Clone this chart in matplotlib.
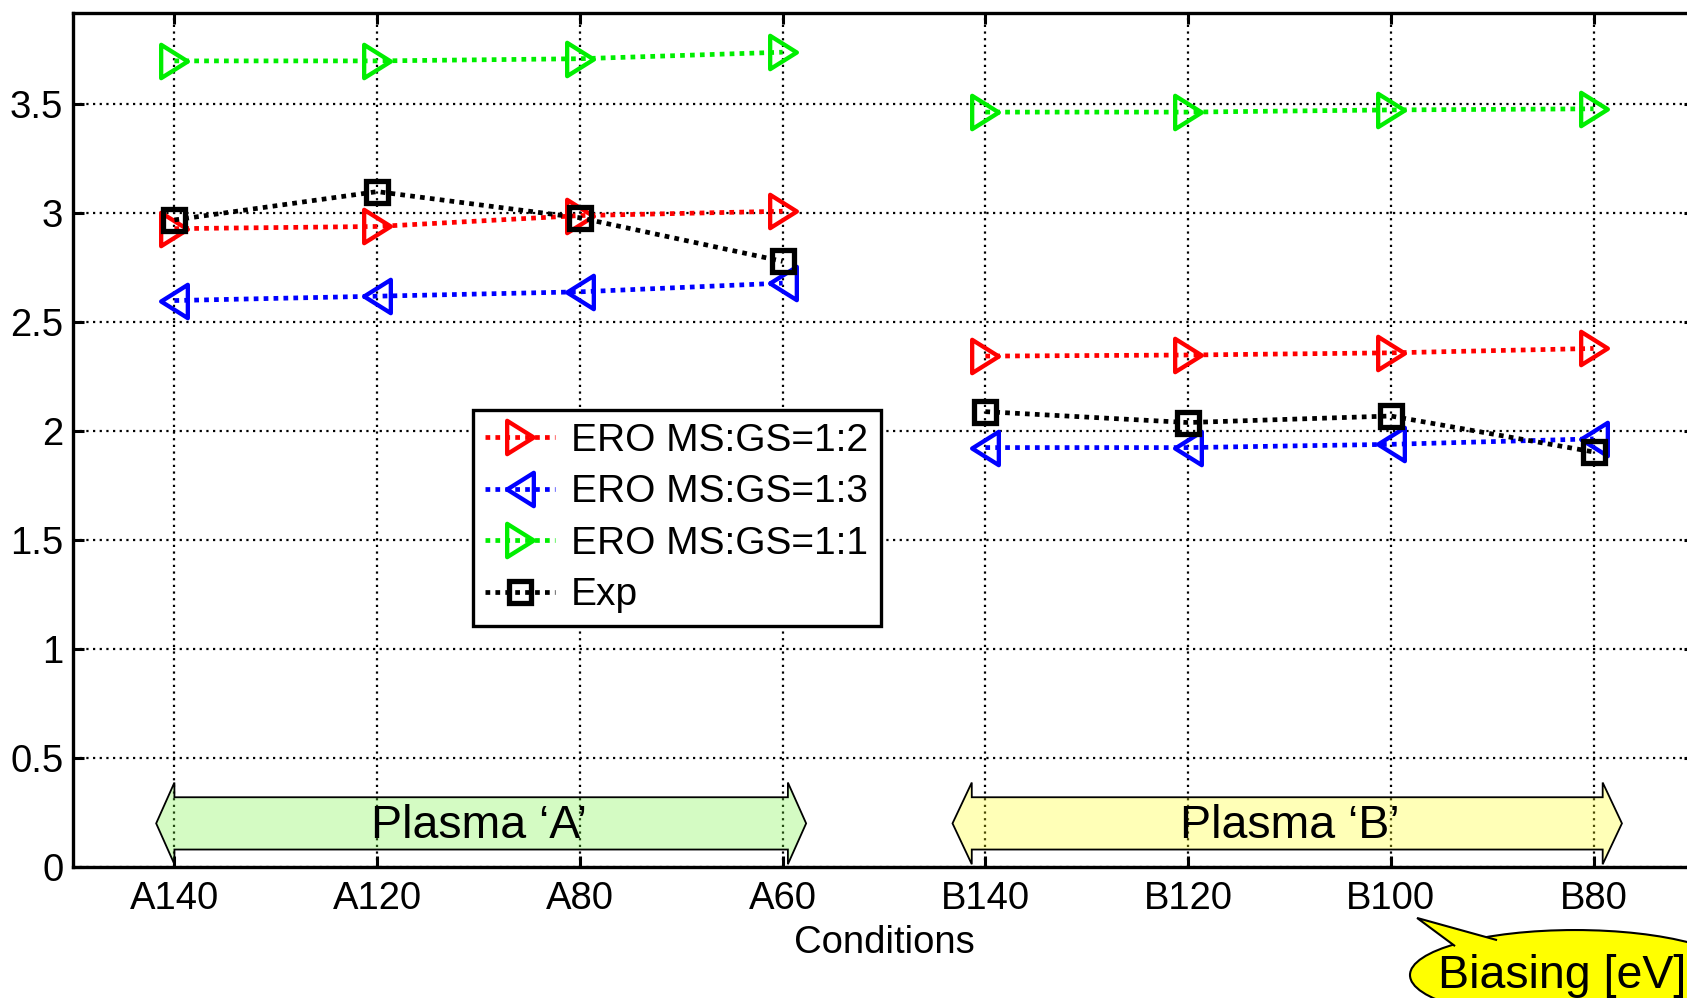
import matplotlib
matplotlib.use("Agg")
import matplotlib.pyplot as plt
import matplotlib.patches as mpatches
from matplotlib.path import Path
import numpy as np

plt.rcParams['font.family'] = ['Liberation Sans', 'DejaVu Sans']

conditions = ["A140", "A120", "A80", "A60", "B140", "B120", "B100", "B80"]
ero_12 = [2.93, 2.94, 2.99, 3.01, 2.345, 2.35, 2.36, 2.38]
ero_13 = [2.60, 2.62, 2.64, 2.68, 1.925, 1.925, 1.94, 1.965]
ero_11 = [3.70, 3.70, 3.71, 3.74, 3.465, 3.465, 3.475, 3.48]
exp_vals = [2.97, 3.10, 2.98, 2.78, 2.09, 2.04, 2.07, 1.905]
yticks = [0, 0.5, 1, 1.5, 2, 2.5, 3, 3.5]

x = np.arange(1, len(conditions) + 1)
groups = [(x[:4], slice(0, 4)), (x[4:], slice(4, 8))]

codes = [Path.MOVETO, Path.LINETO, Path.LINETO, Path.CLOSEPOLY]
tri_r = Path([(-0.8, -1), (0.8, 0), (-0.8, 1), (-0.8, -1)], codes)
tri_l = Path([(0.8, -1), (-0.8, 0), (0.8, 1), (0.8, -1)], codes)
dots = (0, (1, 1.1))

fig = plt.figure(figsize=(16.87, 9.98), dpi=100)
ax = fig.add_axes([0.0433, 0.1313, 0.9614, 0.8557])

series = [
    (ero_12, "red", tri_r, 24, 3.1, "ERO MS:GS=1:2"),
    (ero_13, "blue", tri_l, 24, 3.1, "ERO MS:GS=1:3"),
    (ero_11, "#00ee00", tri_r, 24, 3.1, "ERO MS:GS=1:1"),
    (exp_vals, "black", "s", 16, 3.8, "Exp"),
]

handles = []
for vals, col, mk, ms, mew, lab in series:
    vals = np.array(vals)
    for xs, sl in groups:
        ln, = ax.plot(xs, vals[sl], color=col, linestyle=dots, lw=3.4,
                      marker=mk, ms=ms, mew=mew, mfc="none", mec=col,
                      dash_capstyle="butt", zorder=3, label=lab)
    handles.append(ln)

ax.set_xlim(0.5, 8.5)
ax.set_ylim(0, 3.92)
ax.set_xticks(x)
ax.set_xticklabels(conditions)
ax.set_yticks(yticks)
ax.set_yticklabels(["0", "0.5", "1", "1.5", "2", "2.5", "3", "3.5"])
ax.tick_params(axis="both", direction="in", length=8, width=2.2,
               labelsize=27.5, top=True, right=True, pad=10)
ax.tick_params(axis="y", pad=7)
ax.grid(True, color="black", linestyle=(0, (1, 2)), lw=1.6)
for s in ax.spines.values():
    s.set_linewidth(2.4)
ax.set_xlabel("Conditions", fontsize=27.5, labelpad=6)

leg = ax.legend(handles, [h.get_label() for h in handles],
                loc="upper left", bbox_to_anchor=(0.2804, 0.589),
                bbox_transform=fig.transFigure, borderaxespad=0,
                fontsize=28, numpoints=1, handlelength=1.8,
                handletextpad=0.4, labelspacing=0.4, borderpad=0.32,
                fancybox=False, framealpha=1, edgecolor="black")
leg.get_frame().set_linewidth(2.4)
leg.set_zorder(5)


def double_arrow(x0, x1, yc, body_h, head_h, head_l, fc):
    pts = [(x0, yc), (x0 + head_l, yc + head_h / 2), (x0 + head_l, yc + body_h / 2),
           (x1 - head_l, yc + body_h / 2), (x1 - head_l, yc + head_h / 2), (x1, yc),
           (x1 - head_l, yc - head_h / 2), (x1 - head_l, yc - body_h / 2),
           (x0 + head_l, yc - body_h / 2), (x0 + head_l, yc - head_h / 2)]
    p = mpatches.Polygon(pts, closed=True, facecolor=fc, edgecolor="black",
                         lw=1.3, zorder=2)
    ax.add_patch(p)


double_arrow(x[0] - 0.09, x[3] + 0.116, 0.2, 0.24, 0.375, 0.09, (0.45, 0.96, 0.23, 0.3))
double_arrow(x[4] - 0.162, x[7] + 0.14, 0.2, 0.24, 0.375, 0.095, (1.0, 1.0, 0.07, 0.3))
ax.text((x[0] + x[3]) / 2, 0.19, "Plasma \u2018A\u2019", fontsize=33.5,
        ha="center", va="center", zorder=4)
ax.text((x[4] + x[7]) / 2, 0.19, "Plasma \u2018B\u2019", fontsize=33.5,
        ha="center", va="center", zorder=4)

# speech bubble
ell = mpatches.Ellipse((0.9336, 0.023), 0.1956, 0.0902, transform=fig.transFigure,
                       facecolor="#ffff00", edgecolor="black", lw=1.5, zorder=6)
fig.add_artist(ell)
tail = mpatches.Polygon([(0.8625, 0.052), (0.840, 0.0802), (0.8874, 0.058)],
                        closed=False, transform=fig.transFigure,
                        facecolor="#ffff00", edgecolor="black", lw=1.5, zorder=7)
fig.add_artist(tail)
fig.text(0.8525, 0.022, "Biasing [eV]", fontsize=33.5, ha="left", va="center", zorder=8)

fig.savefig("out.png", dpi=100)
